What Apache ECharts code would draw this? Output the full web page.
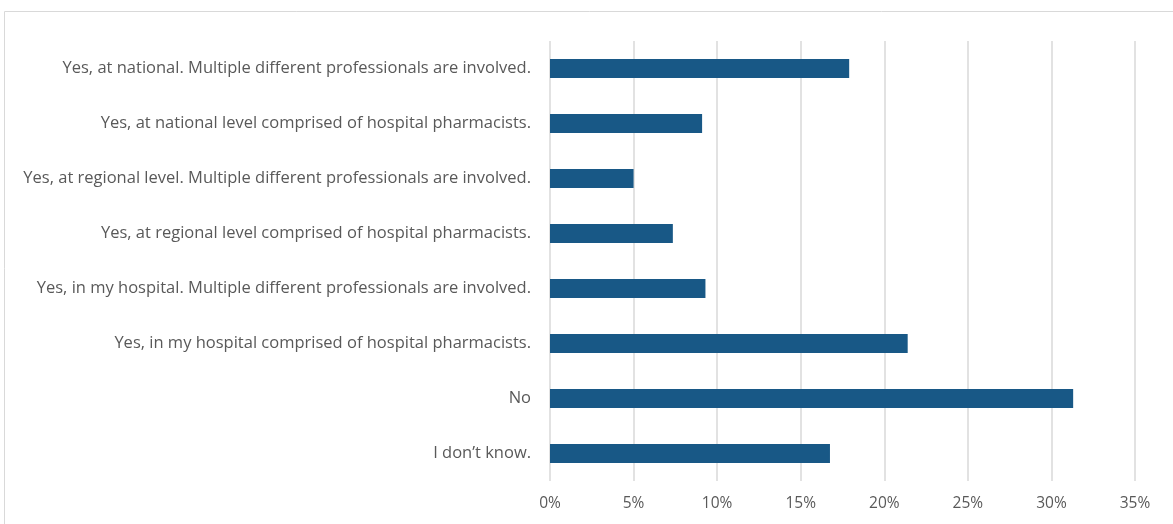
<!DOCTYPE html>
<html><head><meta charset="utf-8">
<script src="https://cdn.jsdelivr.net/npm/echarts@6/dist/echarts.min.js"></script>
<style>html,body{margin:0;padding:0;background:#fff}#c{width:1173px;height:524px}</style>
</head><body><div id="c"></div>
<script>
const categories = [
  "Yes, at national. Multiple different professionals are involved.",
  "Yes, at national level comprised of hospital pharmacists.",
  "Yes, at regional level. Multiple different professionals are involved.",
  "Yes, at regional level comprised of hospital pharmacists.",
  "Yes, in my hospital. Multiple different professionals are involved.",
  "Yes, in my hospital comprised of hospital pharmacists.",
  "No",
  "I don\u2019t know."
];
const values = [17.9, 9.1, 5.0, 7.35, 9.3, 21.4, 31.3, 16.75];
const xTicks = {min: 0, max: 35, interval: 5};

const chart = echarts.init(document.getElementById('c'));
chart.setOption({
  animation: false,
  graphic: [{type: 'rect', shape: {x: 4.5, y: 11.5, width: 1200, height: 600},
    style: {fill: 'none', stroke: '#d9d9d9', lineWidth: 1}, silent: true}],
  grid: {left: 550, right: 38, top: 41, bottom: 43, containLabel: false},
  xAxis: {type: 'value', min: xTicks.min, max: xTicks.max, interval: xTicks.interval,
    axisLine: {show: false}, axisTick: {show: false},
    splitLine: {lineStyle: {color: '#d9d9d9', width: 1.5}},
    axisLabel: {formatter: v => v + '%', color: '#595959', fontSize: 15.5, fontFamily: 'Open Sans', margin: 15}},
  yAxis: {type: 'category', data: categories, inverse: true,
    axisLine: {show: false}, axisTick: {show: false},
    axisLabel: {color: '#595959', fontSize: 16.5, fontFamily: 'Open Sans', margin: 19}},
  series: [{type: 'bar', data: values, barWidth: 19,
    itemStyle: {color: '#185886'}}]
});
</script></body></html>
